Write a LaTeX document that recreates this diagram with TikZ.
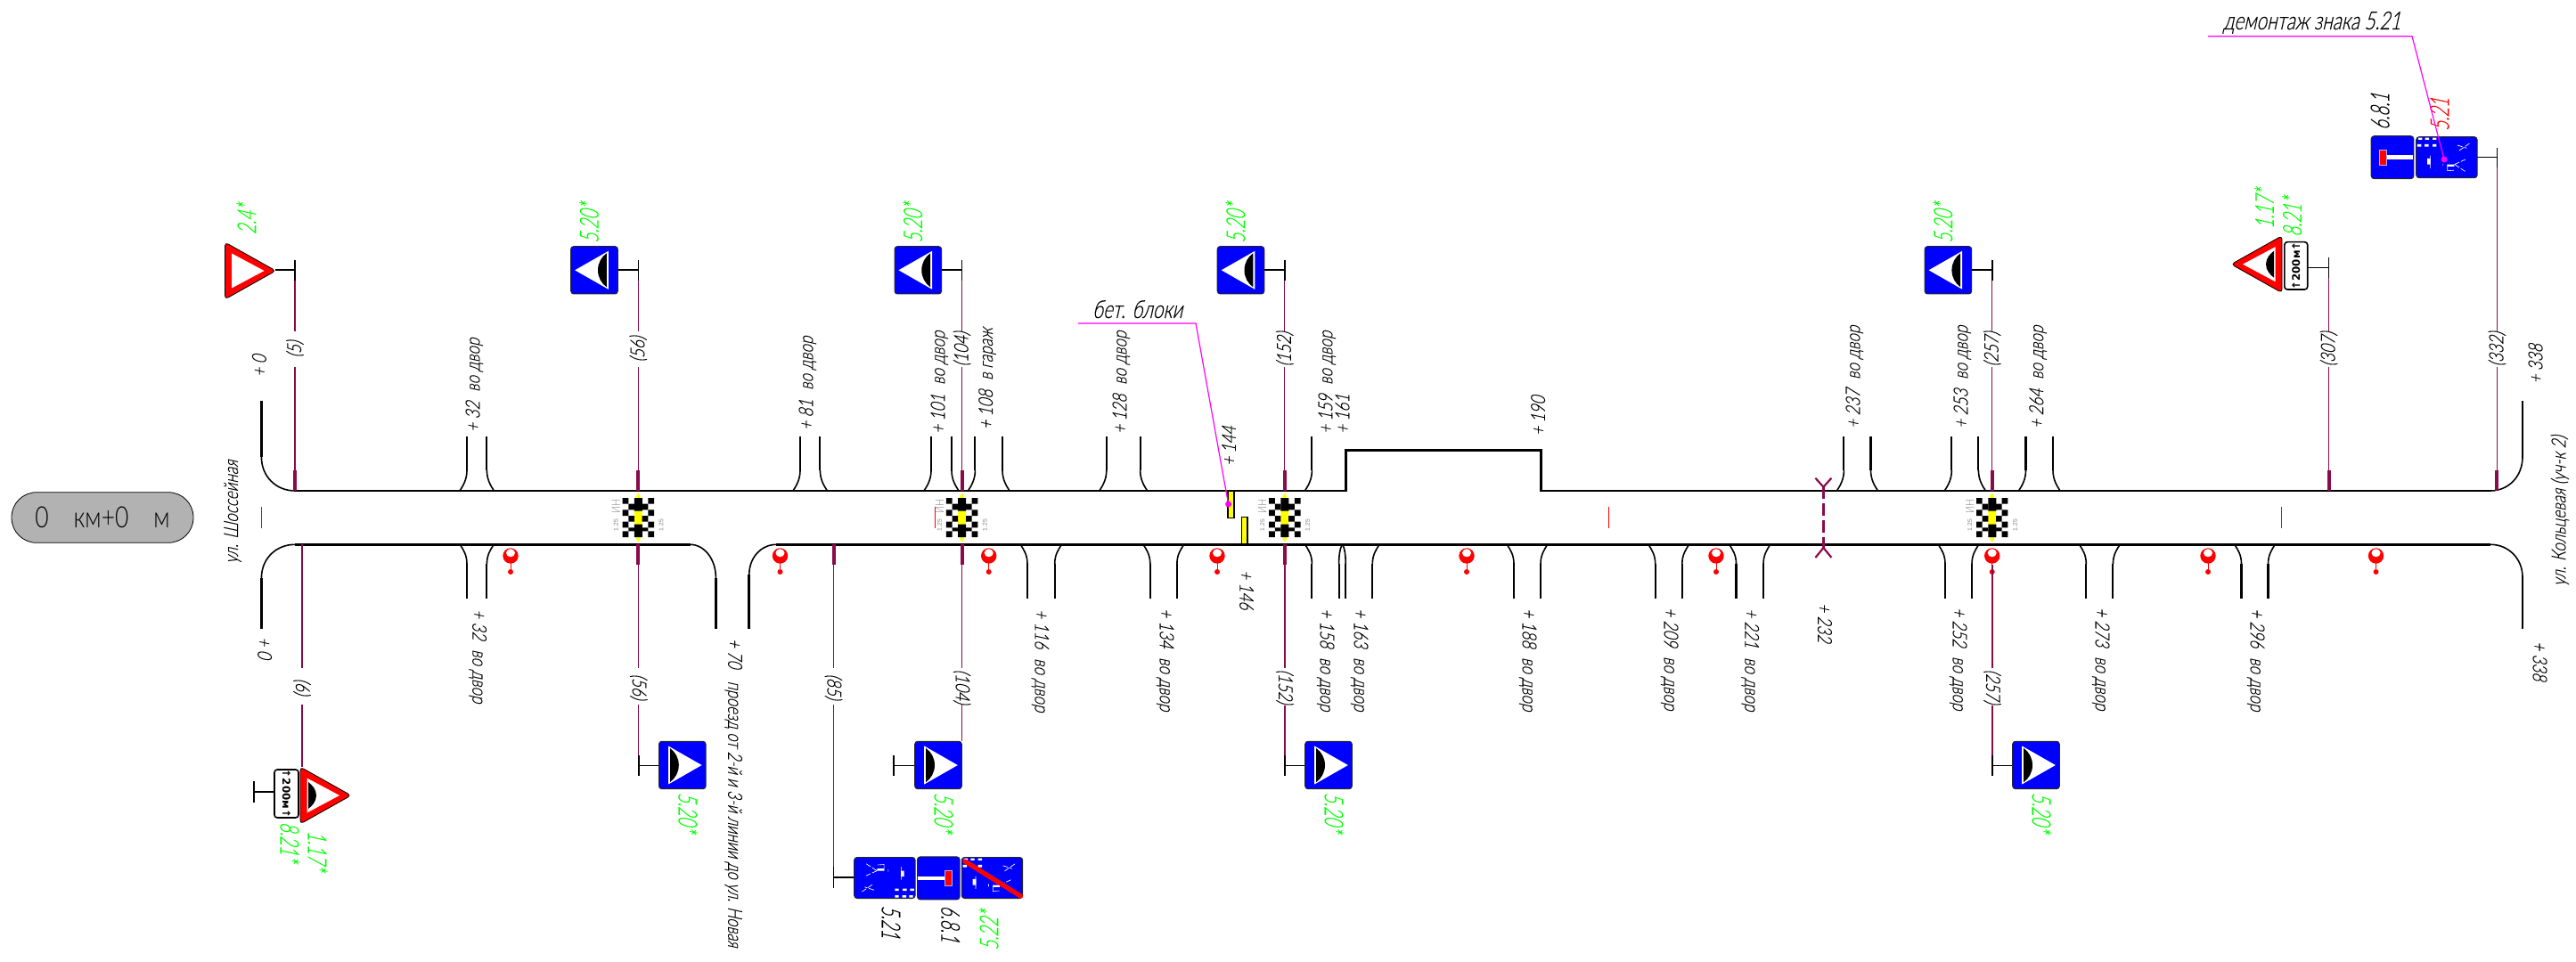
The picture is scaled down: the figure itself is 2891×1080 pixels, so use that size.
\documentclass[tikz,border=0pt]{standalone}
\usepackage{fontspec}
\setmainfont{Liberation Sans}
\newfontfamily\fontA[FakeSlant=0.22,FakeStretch=0.78,FakeBold=0.25]{Lato Light}
\newfontfamily\fontN[FakeSlant=0.22,FakeStretch=0.75,FakeBold=0.25]{Lato Light}
\newfontfamily\fontB[FakeSlant=0.22,FakeStretch=0.64,FakeBold=0.25]{Lato Light}
\newfontfamily\fontH[FakeSlant=0.22,FakeStretch=0.74,FakeBold=0.25]{Lato Light}
\newfontfamily\fontC[FakeStretch=0.8]{Lato Light}
\newfontfamily\fontD{DejaVu Sans Bold}
\newcommand\gA{\fontA\fontsize{11}{12}\selectfont}
\newcommand\gN{\fontN\fontsize{11}{12}\selectfont}
\newcommand\gB{\fontB\fontsize{14.5}{15}\selectfont}
\newcommand\gH{\fontH\fontsize{14}{15}\selectfont}
\newcount\lblc
\definecolor{pole}{HTML}{8A0A4A}
\definecolor{gsign}{HTML}{00FF00}
\definecolor{tagg}{HTML}{7F7F7F}
\definecolor{mag}{HTML}{FF00FF}
\definecolor{yel}{HTML}{FFFF00}
\tikzset{
 x=0.5pt,y=-0.5pt,
 road/.style={line width=1.35pt,black},
 arc/.style={line width=0.8pt,black},
 brn/.style={line width=1.05pt,black},
 thinp/.style={line width=0.55pt,pole},
 thickp/.style={line width=2pt,pole},
 tbar/.style={line width=0.8pt,black},
 lead/.style={line width=0.6pt,mag},
 txt/.style={inner sep=0pt,outer sep=0pt},
 signbox/.style={fill=blue,draw=black!85,line width=0.5pt,rounded corners=1.6pt},
 bumpsign/.pic={
  \path[signbox] (-26.3,-26.7) rectangle (26.3,26.7);
  \fill[white] (-21.8,0) -- (15.8,-21.5) -- (15.8,21.5) -- cycle;
  \fill[black] (13.8,-19) .. controls (8,-15) and (4,-8) .. (4,0) .. controls (4,8) and (8,15) .. (13.8,19) -- cycle;
 },
 warn/.pic={
  \draw[fill=red,draw=black,line width=0.4pt,rounded corners=2pt] (0,-32) -- (0,32) -- (-57,0) -- cycle;
  \fill[white] (-7.5,-19.5) -- (-7.5,19.5) -- (-44,0) -- cycle;
 },
 warnb/.pic={
  \draw[fill=red,draw=black,line width=0.4pt,rounded corners=2pt] (0,-32) -- (0,32) -- (-57,0) -- cycle;
  \fill[white] (-7.5,-19.5) -- (-7.5,19.5) -- (-44,0) -- cycle;
  \fill[black] (-9,-15) .. controls (-13,-12) and (-18,-7) .. (-18,0) .. controls (-18,7) and (-13,12) .. (-9,15) -- cycle;
 },
 deadend/.pic={
  \path[signbox] (-23.8,-24) rectangle (23.8,24);
  \fill[white] (-6.7,-2.2) rectangle (23.3,2.2);
  \draw[fill=red,draw=white!70!blue,line width=0.25pt] (-15,-8.8) rectangle (-6.7,8.8);
 },
 lanes/.pic={
  \path[signbox] (-34.2,-23) rectangle (34.2,23);
  \fill[white] (-31.8,-22) rectangle (-27.5,-19.7) (-24.2,-22) rectangle (-19.8,-19.7) (-15.8,-22) rectangle (-11.5,-19.7);
  \fill[white] (-33,-14.7) rectangle (-28.5,-12) (-24.8,-14.7) rectangle (-20.2,-12) (-15.8,-14.7) rectangle (-11.5,-12);
  \fill[white] (-21.8,1.3) rectangle (-18.2,8) (0.8,8) rectangle (8.5,10.3);
  \draw[white,line width=0.3pt] (-18.5,-2) -- (-18.5,12.3) (0.8,8) -- (0.8,15) -- (8,14.5) (-4,7) -- (-4,9.5);
  \draw[white,line width=0.35pt,dash pattern=on 3pt off 1pt] (8.5,8) -- (21,2.3) (9,8) -- (21.5,16.3) (12,-13.7) -- (22.5,-10.3) (14,-7.7) -- (26.5,-16.3);
 },
 induct/.pic={
  \fill[yel] (0,0) ellipse (4.5 and 27);
  \fill[black] (-4.4,-22) rectangle (4.6,-7.5) (-4.4,7.5) rectangle (4.6,22);
  \foreach \s in {-1,1}{
   \fill[black] (\s*11,-22) rectangle (\s*17.7,-15.3) (\s*11,-8.7) rectangle (\s*17.7,-2) (\s*11,4.7) rectangle (\s*17.7,11.3) (\s*11,15.3) rectangle (\s*17.7,22);
   \fill[black] (\s*4.4,-15.3) rectangle (\s*11,-8.7) (\s*4.4,-2) rectangle (\s*11,4.7) (\s*4.4,11.3) rectangle (\s*11,15.3);
  }
  \node[txt,rotate=90,text=tagg] at (-25,-12.5) {\fontC\fontsize{6.5}{7}\selectfont ИН};
  \node[txt,rotate=90,text=tagg] at (-25,8.5) {\fontsize{3.4}{4}\selectfont 1.25};
  \node[txt,rotate=90,text=tagg] at (25.7,8.5) {\fontsize{3.4}{4}\selectfont 1.25};
 },
 lolli/.pic={
  \draw[red,line width=0.5pt] (0,8) -- (0,18);
  \fill[red] (0,18) circle (3);
  \fill[red] (0,0) circle (8.7);
  \fill[white] (0,-3.2) ellipse (5 and 4.5);
 },
}
\newcommand\tbr[2]{
 \draw[brn] (#1,490) -- (#1,528);
 \draw[arc] (#1,528) .. controls (#1,538) and ({#1-4},545) .. ({#1-8},551);
 \draw[brn] (#2,490) -- (#2,528);
 \draw[arc] (#2,528) .. controls (#2,538) and ({#2+4},545) .. ({#2+8},551);
}
\newcommand\bbr[2]{
 \draw[brn] (#1,672) -- (#1,633);
 \draw[arc] (#1,633) .. controls (#1,623) and ({#1-4},617) .. ({#1-8},611);
 \draw[brn] (#2,672) -- (#2,633);
 \draw[arc] (#2,633) .. controls (#2,623) and ({#2+4},617) .. ({#2+8},611);
}
% text labels: up = reads upward from its start, dn = reads downward from its start
\newcommand\up[4][\gA]{\global\advance\lblc by 1
 \node[txt,rotate=90,anchor=mid west] (t\the\lblc) at (#2,#3) {#1#4};}
\newcommand\dn[4][\gA]{\global\advance\lblc by 1
 \node[txt,rotate=-90,anchor=mid west] (t\the\lblc) at (#2,#3) {#1#4};}
\newcommand\gr[1]{\textcolor{gsign}{#1}}
\newcommand\tpole[3]{% x, label, T-bar bottom y
 \draw[thickp] (#1,527.7) -- (#1,551);
 \draw[thinp] (#1,412) -- (#1,527.7) (#1,372) -- (#1,#3);
 \global\advance\lblc by 1
 \node[txt,rotate=90] (t\the\lblc) at (#1,392) {\gA(#2)};
}
\newcommand\tsign[1]{%
 \draw[tbar] (#1,291.7) -- (#1,315) (#1,303.3) -- ({#1-23},303.3);
 \pic at ({#1-49.3},303.3) {bumpsign};
 \up[\gB]{{#1-50}}{272.5}{\gr{5.20*}}
}
\newcommand\bpole[2]{% x, label
 \draw[thinp] (#1,634) -- (#1,750);
 \global\advance\lblc by 1
 \node[txt,rotate=-90] (t\the\lblc) at (#1,771) {\gA(#2)};
}
\newcommand\bsign[1]{%
 \draw[tbar] (#1,848) -- (#1,870.7) (#1,859.3) -- ({#1+23},859.3);
 \pic[rotate=180] at ({#1+49},859) {bumpsign};
 \dn[\gB]{{#1+50}}{890}{\gr{5.20*}}
}
\begin{document}
\begin{tikzpicture}
\useasboundingbox (0,0) rectangle (2891,1080);
% start-of-section capsule
\node[txt,draw=black,line width=0.4pt,fill=black!30,rounded corners=14pt,minimum width=102pt,minimum height=28.3pt] (capsule) at (115,581)
 {\fontC\fontsize{16.5}{17}\selectfont 0\hspace{14pt}км+0\hspace{14pt}м};
% road edges
\draw[road] (293.4,450) -- (293.4,513);
\draw[arc] (293.4,513) .. controls (293.4,535) and (310,551) .. (331,551);
\draw[road] (331,551) -- (1510.7,551) -- (1510.7,505.7) -- (1729.6,505.7) -- (1729.6,551) -- (2795,551);
\draw[arc] (2795,551) .. controls (2815,551) and (2831,535) .. (2831,513);
\draw[road] (2831,513) -- (2831,450);
\draw[road] (293.4,706) -- (293.4,649);
\draw[arc] (293.4,649) .. controls (293.4,627) and (310,611.3) .. (331,611.3);
\draw[road] (331,611.3) -- (774.5,611.3);
\draw[arc] (774.5,611.3) .. controls (790,611.3) and (803.4,627) .. (803.4,649);
\draw[road] (803.4,649) -- (803.4,706);
\draw[road] (840.8,706) -- (840.8,645);
\draw[arc] (840.8,645) .. controls (840.8,625) and (855,611.3) .. (871.4,611.3);
\draw[road] (871.4,611.3) -- (2795,611.3);
\draw[arc] (2795,611.3) .. controls (2815,611.3) and (2831,627) .. (2831,648);
\draw[road] (2831,648) -- (2831,706);
% side branches, top
\tbr{524}{546.4}
\tbr{898}{920.4}
\tbr{1045}{1068}
\tbr{1094.4}{1125}
\tbr{1241.8}{1279.6}
\tbr{2069.4}{2099.5}
\tbr{2190.3}{2220.4}
\tbr{2273.5}{2304}
\draw[brn] (1472.4,490) -- (1472.4,528);
\draw[arc] (1472.4,528) .. controls (1472.4,538) and (1468.4,545) .. (1464.4,551);
% side branches, bottom
\bbr{524}{546.4}
\bbr{1153}{1183.7}
\bbr{1290.8}{1320.9}
\bbr{1699}{1729}
\bbr{1857.7}{1887.8}
\bbr{1948.5}{1979}
\bbr{2183}{2213}
\bbr{2341.3}{2371.4}
\bbr{2515.5}{2545.5}
\draw[brn] (1472.4,672) -- (1472.4,633);
\draw[arc] (1472.4,633) .. controls (1472.4,623) and (1468.4,617) .. (1464.4,611);
\draw[brn] (1502.6,672) -- (1502.6,633);
\draw[arc] (1502.6,633) .. controls (1502.6,623) and (1504,615) .. (1506.5,611);
\draw[brn] (1510.2,672) -- (1510.2,633);
\draw[arc] (1510.2,633) .. controls (1510.2,623) and (1509,615) .. (1506.5,611);
\draw[brn] (1540.3,672) -- (1540.3,633);
\draw[arc] (1540.3,633) .. controls (1540.3,623) and (1544.3,617) .. (1548.3,611);
% centre red ticks
\draw[red,line width=0.5pt] (293.4,569) -- (293.4,593) (1049,569) -- (1049,593) (1805,569) -- (1805,593) (2560.7,569) -- (2560.7,593);
% crossing
\draw[pole,line width=1.1pt] (2037.4,536.7) -- (2046.4,546.7) -- (2055.4,536.7) (2037.4,626) -- (2046.4,615) -- (2055.4,626);
\draw[pole,line width=1.1pt,dash pattern=on 6.8pt off 2.5pt] (2046.4,546.7) -- (2046.4,615);
% blocks
\draw[fill=yel,draw=black,line width=0.7pt] (1378,551.7) rectangle (1385,581.7);
\draw[fill=yel,draw=black,line width=0.7pt] (1393.7,580.7) rectangle (1400,611);
% speed cushions
\foreach \x in {716.3,1079.6,1441.8,2235.7} \pic at (\x,581) {induct};
% lighting poles
\foreach \x in {573,875.5,1109.7,1366,1646,1926,2235.7,2478,2666.5} \pic at (\x,624) {lolli};
% top signs and poles
\tpole{331}{5}{315}
\draw[tbar] (331,291.7) -- (331,315) (331,303.3) -- (309,303.3);
\pic[rotate=180] at (252.5,304) {warn};
\up[\gB]{282}{263}{\gr{2.4*}}
\foreach \x/\l in {716.3/56,1079.6/104,1441.8/152,2235.7/257}{\tpole{\x}{\l}{315}\tsign{\x}}
\tpole{2613.5}{307}{312}
\draw[tbar] (2613.5,289) -- (2613.5,312) (2613.5,300.7) -- (2589.7,300.7);
\draw[fill=white,draw=black,line width=0.8pt,rounded corners=1.6pt] (2563.8,271.7) rectangle (2589.7,325);
\node[txt,rotate=90] (plt) at (2576.7,298.4) {\fontD\fontsize{5.9}{6}\selectfont ↑200м↑};
\pic at (2561,296.7) {warnb};
\up[\gB]{2546.5}{256.7}{\gr{1.17*}}
\up[\gB]{2577.6}{265.7}{\gr{8.21*}}
\tpole{2802.4}{332}{188.3}
\draw[tbar] (2802.4,165.7) -- (2802.4,188.3) (2802.4,176.7) -- (2780,176.7);
\pic at (2745.9,176.7) {lanes};
\pic at (2685,176.7) {deadend};
\up[\gB]{2676}{145.7}{6.8.1}
\up[\gB]{2743}{146.7}{\textcolor{red}{5.21}}
% bottom signs and poles
\foreach \x in {716.3,935.5,1079.6,1442}{\draw[thickp] (\x,611.3) -- (\x,634);}
\bpole{339}{6}
\draw[thinp] (339,611.3) -- (339,750);
\draw[thinp] (339,791) -- (339,861);
\draw[tbar] (285,877) -- (285,900.7) (285,889) -- (308,889);
\draw[fill=white,draw=black,line width=0.8pt,rounded corners=1.6pt] (308,864) rectangle (335,918);
\node[txt,rotate=-90] (plb) at (321.5,891) {\fontD\fontsize{5.9}{6}\selectfont ↑200м↑};
\pic[rotate=180] at (337,893) {warnb};
\dn[\gB]{320}{923}{\gr{8.21*}}
\dn[\gB]{351}{933}{\gr{1.17*}}
\bpole{716.8}{56}
\draw[thinp] (716.8,791) -- (716.8,848);
\bsign{716.8}
\bpole{935.5}{85}
\draw[thinp] (935.5,791) -- (935.5,973);
\draw[tbar] (935.5,973) -- (935.5,997) (935.5,985) -- (958.7,985);
\pic[rotate=180] at (992.9,985.5) {lanes};
\pic[rotate=180] at (1053.3,985.9) {deadend};
\pic at (1113.5,985.5) {lanes};
\draw[red,line width=2.6pt,line cap=round] (1083,967) -- (1145.5,1006);
\dn[\gB]{995}{1016.7}{5.21}
\dn[\gB]{1061.7}{1016.7}{6.8.1}
\up[\gB]{1115}{1066.7}{\gr{5.22*}}
\bpole{1079.6}{104}
\draw[thinp] (1079.6,791) -- (1079.6,832);
\draw[tbar] (1003,848) -- (1003,870.7) (1003,859.3) -- (1026.8,859.3);
\pic[rotate=180] at (1053,859) {bumpsign};
\dn[\gB]{1054}{890}{\gr{5.20*}}
\bpole{1442}{152}
\draw[thinp] (1442,791.7) -- (1442,848);
\bsign{1442}
\bpole{2236}{257}
\draw[thinp] (2236,642) -- (2236,750) (2236,791.7) -- (2236,848);
\bsign{2236}
% leaders
\draw[lead] (1210,363) -- (1342,363) -- (1378.6,566);
\fill[mag] (1378.6,566) circle (3.5);
\node[txt,anchor=base west] (beton) at (1226,357) {\gH бет. блоки};
\draw[lead] (2478,40.7) -- (2707,40.7) -- (2743,179);
\fill[mag] (2743,179) circle (3.5);
\node[txt,anchor=base west] (demont) at (2495,33) {\gH демонтаж знака 5.21};
% top chainage labels
\up{293.4}{423}{+ 0}
\up{533}{485}{+ 32\hspace{3pt} во двор}
\up{907}{483}{+ 81\hspace{3pt} во двор}
\up{1055}{487}{+ 101\hspace{3pt} во двор}
\up{1108.7}{482}{+ 108\hspace{3pt} в гараж}
\up{1259}{487}{+ 128\hspace{3pt} во двор}
\up{1381.6}{523}{+ 144}
\up{1490}{487}{+ 159\hspace{3pt} во двор}
\up{1509}{487}{+ 161}
\up{1728.6}{489}{+ 190}
\up{2082}{481}{+ 237\hspace{3pt} во двор}
\up{2203}{481}{+ 253\hspace{3pt} во двор}
\up{2287.8}{481}{+ 264\hspace{3pt} во двор}
\up{2848}{430.7}{+ 338}
\up{261.7}{632.7}{ул. Шоссейная}
\up{2874}{658}{ул. Кольцевая (уч-к 2)}
% bottom chainage labels
\dn{294.6}{715}{+ 0}
\dn{535.6}{684}{+ 32\hspace{3pt} во двор}
\dn[\gN]{822.5}{717}{+ 70\hspace{5pt} проезд от 2-й и 3-й линии до ул. Новая}
\dn{1166.8}{684}{+ 116\hspace{3pt} во двор}
\dn{1307}{683}{+ 134\hspace{3pt} во двор}
\dn{1396.6}{640}{+ 146}
\dn{1487}{683}{+ 158\hspace{3pt} во двор}
\dn{1525}{683}{+ 163\hspace{3pt} во двор}
\dn{1714}{683}{+ 188\hspace{3pt} во двор}
\dn{1873}{682}{+ 209\hspace{3pt} во двор}
\dn{1963.6}{683}{+ 221\hspace{3pt} во двор}
\dn{2045.4}{677}{+ 232}
\dn{2197}{682}{+ 252\hspace{3pt} во двор}
\dn{2357}{682}{+ 273\hspace{3pt} во двор}
\dn{2531}{683}{+ 296\hspace{3pt} во двор}
\dn{2848}{720}{+ 338}
\end{tikzpicture}
\end{document}
